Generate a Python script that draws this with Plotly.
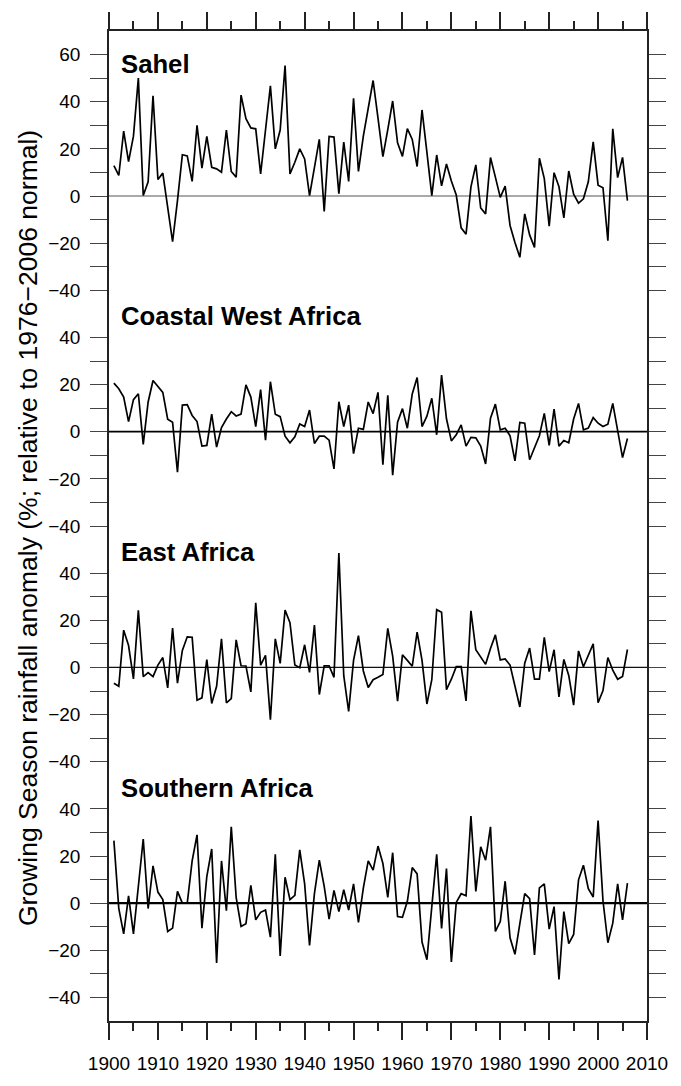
import plotly.graph_objects as go

years = list(range(1901, 2007))

sahel = [12.9, 8.7, 27.5, 14.6, 25.4, 50.0, 0.2, 6.0, 42.5, 7.0,
         9.7, -5.0, -19.4, -2.0, 17.5, 17.0, 6.2, 30.0, 11.8, 25.3,
         12.2, 11.5, 10.1, 28.0, 10.4, 8.0, 42.8, 32.8, 28.9, 28.5,
         9.4, 28.0, 46.7, 20.0, 28.0, 55.3, 9.4, 14.3, 20.0, 15.7,
         0.2, 12.0, 24.0, -6.5, 25.3, 25.0, 1.0, 22.9, 6.2, 41.4,
         10.4, 25.4, 37.0, 49.0, 33.0, 16.7, 28.2, 40.3, 22.6, 16.8,
         28.6, 24.0, 12.5, 36.5, 18.5, 0.2, 17.4, 4.3, 13.6, 6.4,
         0.4, -13.5, -16.2, 3.9, 13.2, -5.1, -7.6, 16.3, 8.0, -0.6,
         4.2, -12.5, -19.7, -26.0, -7.6, -16.5, -21.8, 16.0, 7.4, -12.8,
         9.9, 3.9, -9.3, 10.6, 0.8, -3.0, -1.2, 6.0, 23.0, 4.6,
         3.5, -19.0, 28.5, 7.8, 16.4, -2.0]

coastal = [20.6, 18.2, 14.7, 4.3, 13.6, 16.1, -5.4, 12.6, 21.7, 19.2,
           16.7, 5.3, 4.0, -17.2, 11.3, 11.5, 6.9, 4.3, -6.1, -5.8,
           7.5, -6.5, 1.8, 5.4, 8.5, 6.7, 7.5, 19.9, 14.7, 2.2,
           17.9, -3.6, 21.2, 7.4, 6.4, -1.9, -4.7, -2.2, 3.3, 2.2,
           9.2, -5.0, -1.9, -1.9, -3.6, -15.8, 12.7, 2.2, 11.3, -9.3,
           1.5, 1.0, 12.6, 7.7, 16.7, -14.0, 15.4, -18.4, 4.0, 9.8,
           1.5, 16.0, 23.0, 2.2, 6.6, 14.2, -1.3, 24.0, 5.5, -3.9,
           -1.3, 2.9, -6.1, -2.4, -2.6, -6.1, -13.7, 5.7, 11.7, 0.8,
           1.5, -1.7, -12.4, 3.9, 3.6, -11.9, -7.1, -1.7, 7.8, -5.8,
           9.6, -6.1, -3.7, -4.7, 5.4, 12.0, 0.8, 1.5, 6.0, 3.6,
           2.2, 3.2, 12.0, 0.1, -11.0, -2.9]

east = [-6.7, -8.0, 15.8, 9.3, -4.9, 24.2, -3.9, -2.2, -3.9, 1.0,
        4.2, -8.7, 16.7, -6.7, 7.2, 13.0, 12.8, -13.9, -12.9, 3.3,
        -15.3, -8.0, 12.1, -15.0, -13.2, 11.7, 0.7, 0.6, -10.4, 27.4,
        1.0, 5.1, -22.2, 12.1, 1.7, 24.3, 19.0, 1.0, -0.1, 9.6,
        -2.1, 18.0, -11.5, 0.7, 0.7, -4.2, 48.5, -3.5, -18.7, 3.0,
        13.5, -1.5, -8.5, -5.2, -4.2, -3.0, 16.6, 4.8, -14.3, 5.3,
        3.0, 0.5, 15.0, 3.0, -15.5, -5.2, 24.5, 23.4, -9.4, -5.0,
        0.3, 0.3, -14.2, 24.0, 7.5, 4.5, 1.3, 8.0, 13.8, 3.2,
        3.6, 1.0, -8.0, -16.8, 1.8, 8.2, -5.0, -5.0, 12.8, -1.8,
        7.5, -12.5, 3.4, -3.4, -16.0, 7.0, 0.3, 4.9, 10.0, -15.0,
        -9.8, 4.2, -1.2, -5.0, -3.8, 7.6]

southern = [26.5, -2.2, -13.0, 3.1, -13.0, 8.0, 27.2, -2.3, 15.8, 4.7,
            1.5, -12.0, -10.6, 5.0, 0.0, 0.0, 17.9, 29.0, -10.6, 11.3,
            23.0, -25.4, 17.9, -3.2, 32.4, 2.4, -9.9, -8.7, 7.5, -7.1,
            -3.9, -2.9, -14.4, 20.7, -22.4, 11.0, 1.5, 3.3, 22.6, 8.2,
            -17.9, 4.0, 18.2, 7.1, -6.8, 5.4, -3.6, 5.7, -2.9, 8.2,
            -8.2, 6.4, 17.9, 14.0, 24.2, 16.8, 2.4, 21.4, -5.7, -6.0,
            0.8, 15.1, 12.4, -16.5, -24.0, -1.5, 20.7, -10.7, 14.7, -24.9,
            0.3, 4.0, 3.1, 37.0, 5.0, 23.9, 18.2, 32.4, -12.0, -7.8,
            9.3, -14.7, -21.7, -8.7, 4.0, 1.9, -22.0, 6.5, 8.2, -11.0,
            -1.5, -32.4, -3.6, -17.2, -13.3, 9.9, 16.1, 6.1, 2.6, 35.0,
            1.0, -16.8, -8.5, 8.2, -7.1, 8.5]

panel_names = ["Sahel", "Coastal West Africa", "East Africa", "Southern Africa"]
panel_series = [sahel, coastal, east, southern]
panel_ticks = [
    [-40, -30, -20, -10, 0, 10, 20, 30, 40, 50, 60],
    [-40, -30, -20, -10, 0, 10, 20, 30, 40],
    [-40, -30, -20, -10, 0, 10, 20, 30, 40],
    [-40, -30, -20, -10, 0, 10, 20, 30, 40],
]
x_ticks = list(range(1900, 2011, 10))

# layout positions (stacking of the panels on one vertical axis)
panel_offsets = [0, -100, -200, -300]
label_levels = [56, 49, 49, 49]
zero_widths = [1.2, 1.8, 1.3, 2.2]
zero_colors = ["#555555", "#000000", "#111111", "#000000"]

FONT = "Liberation Sans, Arial, Helvetica, sans-serif"

fig = go.Figure()

tickvals, ticktext = [], []
for name, vals, ticks, off, lvl, zw, zc in zip(panel_names, panel_series, panel_ticks,
                                              panel_offsets, label_levels,
                                              zero_widths, zero_colors):
    fig.add_trace(go.Scatter(
        x=years, y=[v + off for v in vals], mode="lines",
        line=dict(color="black", width=1.7), name=name, showlegend=False,
        hoverinfo="skip"))
    for t in ticks:
        tickvals.append(t + off)
        ticktext.append(str(t).replace("-", "\u2212") if t % 20 == 0 else "")
    fig.add_shape(type="line", xref="paper", x0=0, x1=1, yref="y", y0=off, y1=off,
                  line=dict(color=zc, width=zw), layer="below")
    fig.add_annotation(x=1902, y=lvl + off, xref="x", yref="y", text="<b>%s</b>" % name,
                       showarrow=False, xanchor="left", yanchor="middle",
                       font=dict(family=FONT, size=25.7, color="black"))

fig.add_annotation(
    x=-0.1496, y=0.4975, xref="paper", yref="paper",
    text="Growing Season rainfall anomaly (%; relative to 1976\u22122006 normal)",
    textangle=-90, showarrow=False, xanchor="center", yanchor="middle",
    font=dict(family=FONT, size=26.5, color="black"))

fig.update_layout(
    width=681, height=1086,
    margin=dict(l=109, r=34, t=29, b=46),
    paper_bgcolor="white", plot_bgcolor="white",
    font=dict(family=FONT, color="black"),
    xaxis=dict(range=[1900, 2010], tickvals=x_ticks, ticks="outside", ticklen=17,
               tickwidth=1.5, tickcolor="#222222", showline=True, linecolor="#222222",
               linewidth=1.5, mirror="ticks", showgrid=False, zeroline=False,
               ticklabelstandoff=7,
               tickfont=dict(family=FONT, size=19, color="black"),
               minor=dict(dtick=5, tick0=1900, ticks="outside", ticklen=8,
                          tickwidth=1.5, tickcolor="#222222", showgrid=False)),
    yaxis=dict(range=[-350, 70], tickvals=tickvals, ticktext=ticktext,
               ticks="outside", ticklen=17, tickwidth=1.3, tickcolor="#444444",
               showline=True, linecolor="#222222", linewidth=1.5, mirror="ticks",
               showgrid=False, zeroline=False, ticklabelstandoff=6,
               tickfont=dict(family=FONT, size=19, color="black")),
)

fig.write_html(
    "out.html",
    config={"displayModeBar": False},
    post_script="document.body.style.margin='0px';document.body.style.overflow='hidden';",
)
